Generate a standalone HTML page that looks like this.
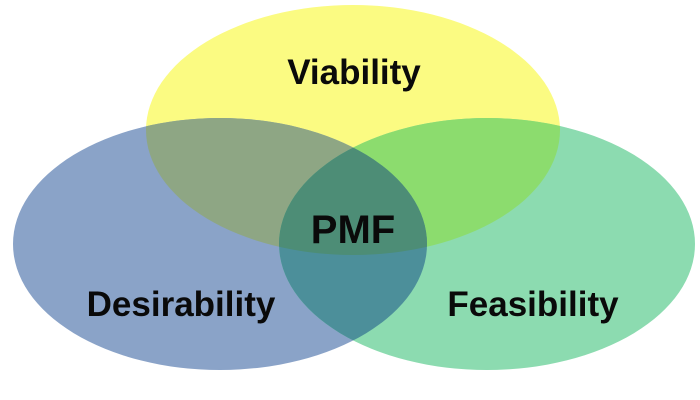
<!DOCTYPE html>
<html><head><meta charset="utf-8"><style>
html,body{margin:0;padding:0;background:#fff;}
svg{display:block}
text{font-family:"Liberation Sans",sans-serif;font-weight:bold;fill:#0a0a0a;text-anchor:middle}
</style></head><body>
<svg width="700" height="400" viewBox="0 0 700 400">
<defs>
<clipPath id="cy"><ellipse cx="353" cy="130" rx="207" ry="125"/></clipPath>
<clipPath id="cb"><ellipse cx="220" cy="244" rx="207" ry="126"/></clipPath>
<clipPath id="cg"><ellipse cx="487" cy="244" rx="208" ry="126"/></clipPath>
</defs>
<ellipse cx="353" cy="130" rx="207" ry="125" fill="#fbfb82"/>
<ellipse cx="220" cy="244" rx="207" ry="126" fill="#8aa3c8"/>
<ellipse cx="487" cy="244" rx="208" ry="126" fill="#8cdbb0"/>
<ellipse cx="220" cy="244" rx="207" ry="126" fill="#8ea684" clip-path="url(#cy)"/>
<ellipse cx="487" cy="244" rx="208" ry="126" fill="#8cdc6e" clip-path="url(#cy)"/>
<g clip-path="url(#cb)"><ellipse cx="487" cy="244" rx="208" ry="126" fill="#4c8f9a"/></g>
<g clip-path="url(#cy)"><g clip-path="url(#cb)"><ellipse cx="487" cy="244" rx="208" ry="126" fill="#4d8d76"/></g></g>
<text x="354" y="84" font-size="35">Viability</text>
<text x="353" y="243" font-size="40">PMF</text>
<text x="181" y="316" font-size="35">Desirability</text>
<text x="533" y="316" font-size="35">Feasibility</text>
</svg>
</body></html>
